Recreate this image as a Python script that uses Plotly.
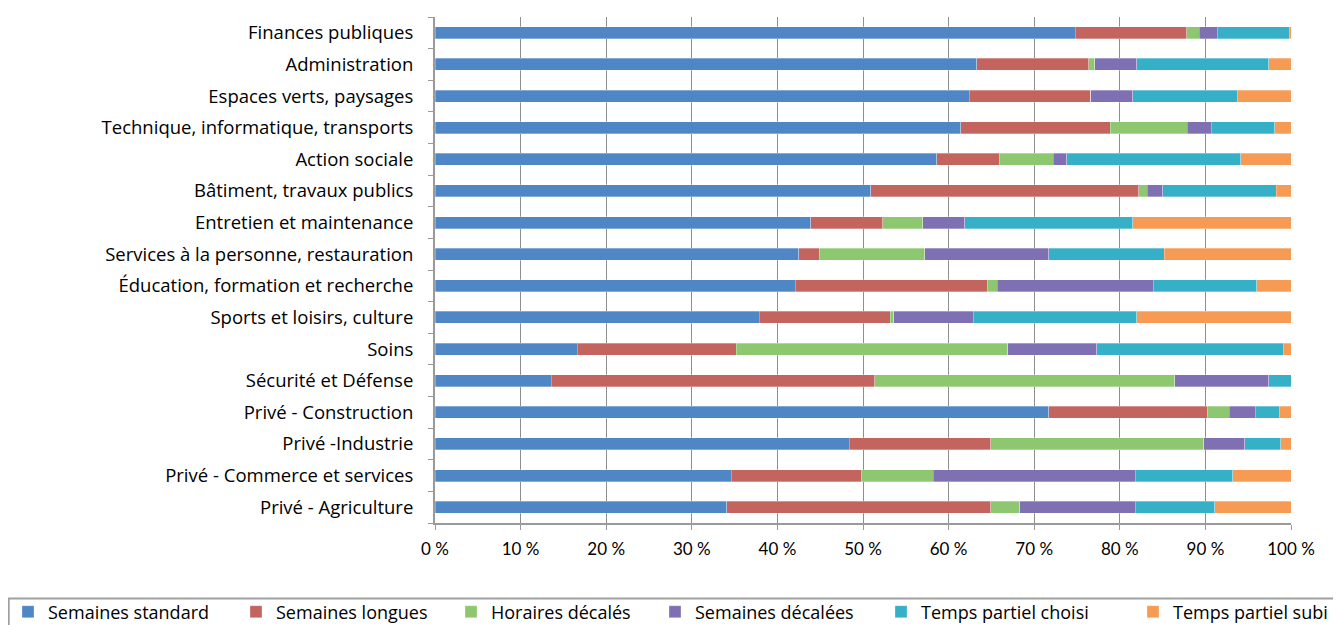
import plotly.graph_objects as go

categories = [
    "Finances publiques",
    "Administration",
    "Espaces verts, paysages",
    "Technique, informatique, transports",
    "Action sociale",
    "Bâtiment, travaux publics",
    "Entretien et maintenance",
    "Services à la personne, restauration",
    "Éducation, formation et recherche",
    "Sports et loisirs, culture",
    "Soins",
    "Sécurité et Défense",
    "Privé - Construction",
    "Privé -Industrie",
    "Privé - Commerce et services",
    "Privé - Agriculture",
]

series_names = [
    "Semaines standard",
    "Semaines longues",
    "Horaires décalés",
    "Semaines décalées",
    "Temps partiel choisi",
    "Temps partiel subi",
]

semaines_standard = [74.8, 63.3, 62.4, 61.4, 58.6, 50.9, 43.9, 42.5, 42.1, 37.9, 16.6, 13.6, 71.7, 48.4, 34.6, 34.1]
semaines_longues = [13.0, 13.1, 14.2, 17.5, 7.3, 31.3, 8.4, 2.4, 22.4, 15.3, 18.6, 37.8, 18.5, 16.5, 15.2, 30.8]
horaires_decales = [1.5, 0.7, 0.0, 9.0, 6.3, 1.0, 4.7, 12.3, 1.2, 0.4, 31.7, 35.0, 2.6, 24.9, 8.4, 3.4]
semaines_decalees = [2.1, 4.9, 4.9, 2.8, 1.6, 1.8, 4.9, 14.5, 18.2, 9.3, 10.4, 11.0, 3.0, 4.8, 23.6, 13.5]
temps_partiel_choisi = [8.4, 15.4, 12.2, 7.4, 20.3, 13.3, 19.6, 13.5, 12.1, 19.1, 21.8, 2.6, 2.8, 4.2, 11.4, 9.3]
temps_partiel_subi = [0.2, 2.6, 6.3, 1.9, 5.9, 1.7, 18.5, 14.8, 4.0, 18.0, 0.9, 0.0, 1.4, 1.2, 6.8, 8.9]

x_tick_values = [0, 10, 20, 30, 40, 50, 60, 70, 80, 90, 100]
x_tick_labels = ["0 %", "10 %", "20 %", "30 %", "40 %", "50 %", "60 %", "70 %", "80 %", "90 %", "100 %"]

colors = ["#4F86C6", "#C3645F", "#8DC870", "#7F70B3", "#36B0C7", "#F79A54"]
all_series = [semaines_standard, semaines_longues, horaires_decales,
              semaines_decalees, temps_partiel_choisi, temps_partiel_subi]

# layout geometry (the page adds an 8px body margin, so the figure is 8px smaller)
W, H = 1333, 617
ML, MR, MT, MB = 427.3, 49.7, 8.7, 101.7
plot_w = W - ML - MR
plot_h = H - MT - MB

legend_ids = ["legend", "legend", "legend", "legend2", "legend2", "legend2"]
legend_widths = [183, 170, 160, 181, 207, 170]

fig = go.Figure()
for name, vals, col, lid, lw in zip(series_names, all_series, colors, legend_ids, legend_widths):
    fig.add_trace(go.Bar(
        y=categories, x=vals, name=name, orientation="h",
        marker=dict(color=col, line=dict(color="rgba(255,255,255,0.6)", width=0.5)),
        legend=lid, legendwidth=lw,
    ))

legend_common = dict(
    orientation="h",
    xref="container", yref="container",
    xanchor="left", yanchor="middle",
    borderwidth=0, bgcolor="rgba(0,0,0,0)",
    font=dict(family="'Open Sans', sans-serif", size=18, color="#000000"),
    traceorder="normal",
)

# legend frame (decoration)
frame_left, frame_top, frame_right, frame_bottom = 1, 591, 1345, 640
fig.add_shape(
    type="rect", xref="paper", yref="paper",
    x0=(frame_left - ML) / plot_w, x1=(frame_right - ML) / plot_w,
    y0=(H - MB - frame_top) / plot_h, y1=(H - MB - frame_bottom) / plot_h,
    line=dict(color="#A0A0A0", width=2), fillcolor="rgba(0,0,0,0)", layer="above",
)

fig.update_layout(
    width=W, height=H,
    barmode="stack",
    bargap=0.62,
    plot_bgcolor="white",
    paper_bgcolor="white",
    margin=dict(l=ML, r=MR, t=MT, b=MB, autoexpand=False),
    font=dict(family="Lato, 'Open Sans', sans-serif", size=16, color="#000000"),
    xaxis=dict(
        range=[0, 100],
        tickvals=x_tick_values,
        ticktext=x_tick_labels,
        showgrid=True, gridcolor="#8E8E8E", gridwidth=1,
        showline=True, linecolor="#9A9A9A", linewidth=2,
        ticks="outside", ticklen=5, tickcolor="#9A9A9A",
        zeroline=False,
        tickfont=dict(family="Lato, sans-serif", size=17),
        ticklabelstandoff=5,
        fixedrange=True,
    ),
    yaxis=dict(
        categoryorder="array",
        categoryarray=categories[::-1],
        showline=True, linecolor="#9A9A9A", linewidth=2,
        ticks="outside", ticklen=5, tickcolor="#9A9A9A",
        tickson="boundaries",
        showgrid=False,
        tickfont=dict(family="'Open Sans', sans-serif", size=18.5),
        ticklabelstandoff=16,
        fixedrange=True,
    ),
    legend=dict(legend_common, x=-4 / W, y=1 - 604 / H),
    legend2=dict(legend_common, x=647 / W, y=1 - 604 / H),
    showlegend=True,
)

fig.write_html("out.html")
